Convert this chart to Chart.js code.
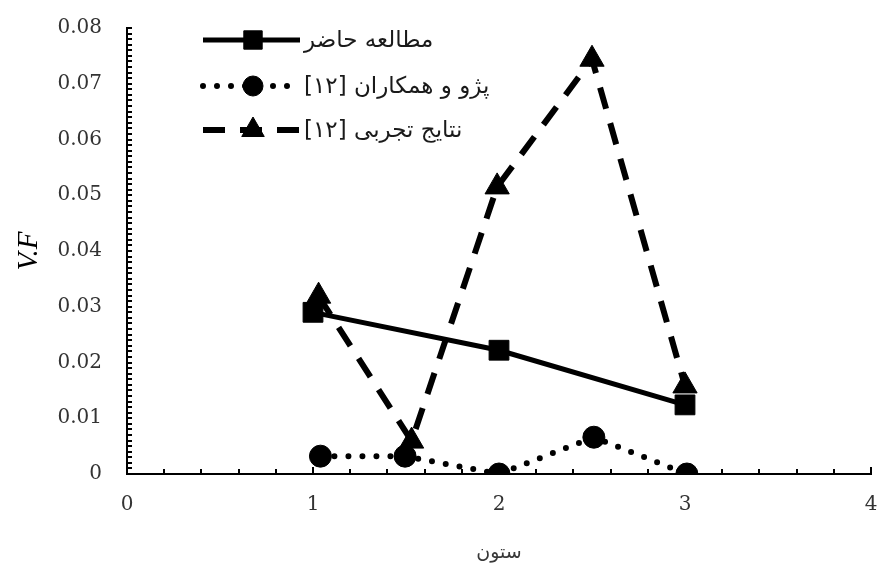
<!DOCTYPE html>
<html>
<head>
<meta charset="utf-8">
<script src="https://cdn.jsdelivr.net/npm/chart.js@4/dist/chart.umd.min.js"></script>
<style>
  html, body { margin: 0; padding: 0; background: #fff; }
  #wrap { width: 879px; height: 574px; }
</style>
</head>
<body>
<div id="wrap"><canvas id="vfChart" width="879" height="574"></canvas></div>
<script>
// series
const seriesNames = ["مطالعه حاضر", "پژو و همکاران [۱۲]", "نتایج تجربی [۱۲]"];
const studyX = [1, 2, 3];
const studyY = [0.029, 0.0222, 0.0124];
const pejoX = [1.04, 1.495, 2, 2.51, 3.01];
const pejoY = [0.0032, 0.0032, 0, 0.0066, 0];
const expX = [1.03, 1.53, 1.99, 2.5, 3];
const expY = [0.0319, 0.0059, 0.0515, 0.0744, 0.0158];
const xTicks = [0, 1, 2, 3, 4];
const yTicks = [0, 0.01, 0.02, 0.03, 0.04, 0.05, 0.06, 0.07, 0.08];

const toPoints = (xs, ys) => xs.map((x, i) => ({ x: x, y: ys[i] }));

// small inside tick marks like the original excel axes
const innerTicks = {
  id: "innerTicks",
  afterDatasetsDraw(chart) {
    const { ctx, scales: { x, y } } = chart;
    ctx.save();
    ctx.strokeStyle = "#000";
    ctx.lineWidth = 2;
    ctx.beginPath();
    for (let i = 0; i <= 20; i++) {
      const px = Math.round(x.getPixelForValue(i * 0.2));
      const len = i % 5 === 0 ? 7 : 5;
      ctx.moveTo(px, y.bottom);
      ctx.lineTo(px, y.bottom - len);
    }
    for (let i = 0; i <= 80; i++) {
      const py = Math.round(y.getPixelForValue(i * 0.001));
      ctx.moveTo(x.left, py);
      ctx.lineTo(x.left + 5, py);
    }
    ctx.stroke();
    ctx.restore();
  }
};

// legend drawn inside the plot, line sample on the left, persian text to the right
const innerLegend = {
  id: "innerLegend",
  afterDraw(chart) {
    const ctx = chart.ctx;
    const rows = [40, 86, 130];
    ctx.save();
    chart.data.datasets.forEach((ds, i) => {
      const y = rows[i];
      ctx.save();
      ctx.strokeStyle = "#000";
      ctx.lineWidth = ds.borderWidth;
      ctx.lineCap = ds.borderCapStyle || "butt";
      ctx.setLineDash(ds.borderDash || []);
      ctx.beginPath();
      ctx.moveTo(203, y);
      ctx.lineTo(300, y);
      ctx.stroke();
      ctx.restore();
      ctx.fillStyle = "#000";
      ctx.strokeStyle = "#000";
      ctx.lineWidth = 1;
      Chart.helpers.drawPoint(ctx, {
        pointStyle: ds.pointStyle,
        radius: ds.pointRadius - 1,
        borderWidth: 1
      }, 253, y);
      ctx.fillStyle = "#1a1a1a";
      ctx.font = "23px 'DejaVu Sans'";
      ctx.direction = "rtl";
      ctx.textAlign = "left";
      ctx.textBaseline = "middle";
      ctx.fillText(seriesNames[i], 304, y + 1);
    });
    ctx.restore();
  }
};

const ctx = document.getElementById("vfChart").getContext("2d");

new Chart(ctx, {
  type: "scatter",
  data: {
    datasets: [{
      label: seriesNames[0],
      data: toPoints(studyX, studyY),
      showLine: true,
      borderColor: "#000",
      backgroundColor: "#000",
      borderWidth: 5,
      pointStyle: "rect",
      pointRadius: 14,
      pointBorderWidth: 1
    }, {
      label: seriesNames[1],
      data: toPoints(pejoX, pejoY),
      showLine: true,
      borderColor: "#000",
      backgroundColor: "#000",
      borderWidth: 6,
      borderDash: [0, 14],
      borderCapStyle: "round",
      pointStyle: "circle",
      pointRadius: 11,
      pointBorderWidth: 1
    }, {
      label: seriesNames[2],
      data: toPoints(expX, expY),
      showLine: true,
      borderColor: "#000",
      backgroundColor: "#000",
      borderWidth: 6,
      borderDash: [22, 15],
      pointStyle: "triangle",
      pointRadius: 14,
      pointBorderWidth: 1
    }]
  },
  options: {
    responsive: false,
    animation: false,
    layout: { autoPadding: false, padding: { top: 28, right: 8, left: 0, bottom: 0 } },
    plugins: {
      legend: { display: false },
      tooltip: { enabled: false }
    },
    scales: {
      x: {
        type: "linear",
        min: 0,
        max: 4,
        afterBuildTicks: (s) => { s.ticks = xTicks.map(v => ({ value: v })); },
        afterFit: (s) => { s.height = 100; s.paddingLeft = 0; s.paddingRight = 0; },
        grid: { display: false, drawTicks: false },
        border: { display: true, color: "#000", width: 2 },
        ticks: {
          color: "#333",
          padding: 19,
          font: { family: "'DejaVu Serif'", size: 20 }
        },
        title: {
          display: true,
          text: "ستون",
          color: "#383838",
          padding: { top: 0, bottom: 10 },
          font: { family: "'DejaVu Sans'", size: 19 }
        }
      },
      y: {
        type: "linear",
        min: 0,
        max: 0.08,
        afterBuildTicks: (s) => { s.ticks = yTicks.map(v => ({ value: v })); },
        afterFit: (s) => { s.width = 127; s.paddingTop = 0; s.paddingBottom = 0; },
        grid: { display: false, drawTicks: false },
        border: { display: true, color: "#000", width: 2 },
        ticks: {
          color: "#333",
          padding: 25,
          font: { family: "'DejaVu Serif'", size: 20 },
          callback: (v) => v === 0 ? "0" : v.toFixed(2)
        },
        title: {
          display: true,
          text: "V.F",
          color: "#000",
          padding: { top: 12, bottom: 0 },
          font: { family: "'Liberation Serif'", size: 29, style: "italic" }
        }
      }
    }
  },
  plugins: [innerTicks, innerLegend]
});
</script>
</body>
</html>
